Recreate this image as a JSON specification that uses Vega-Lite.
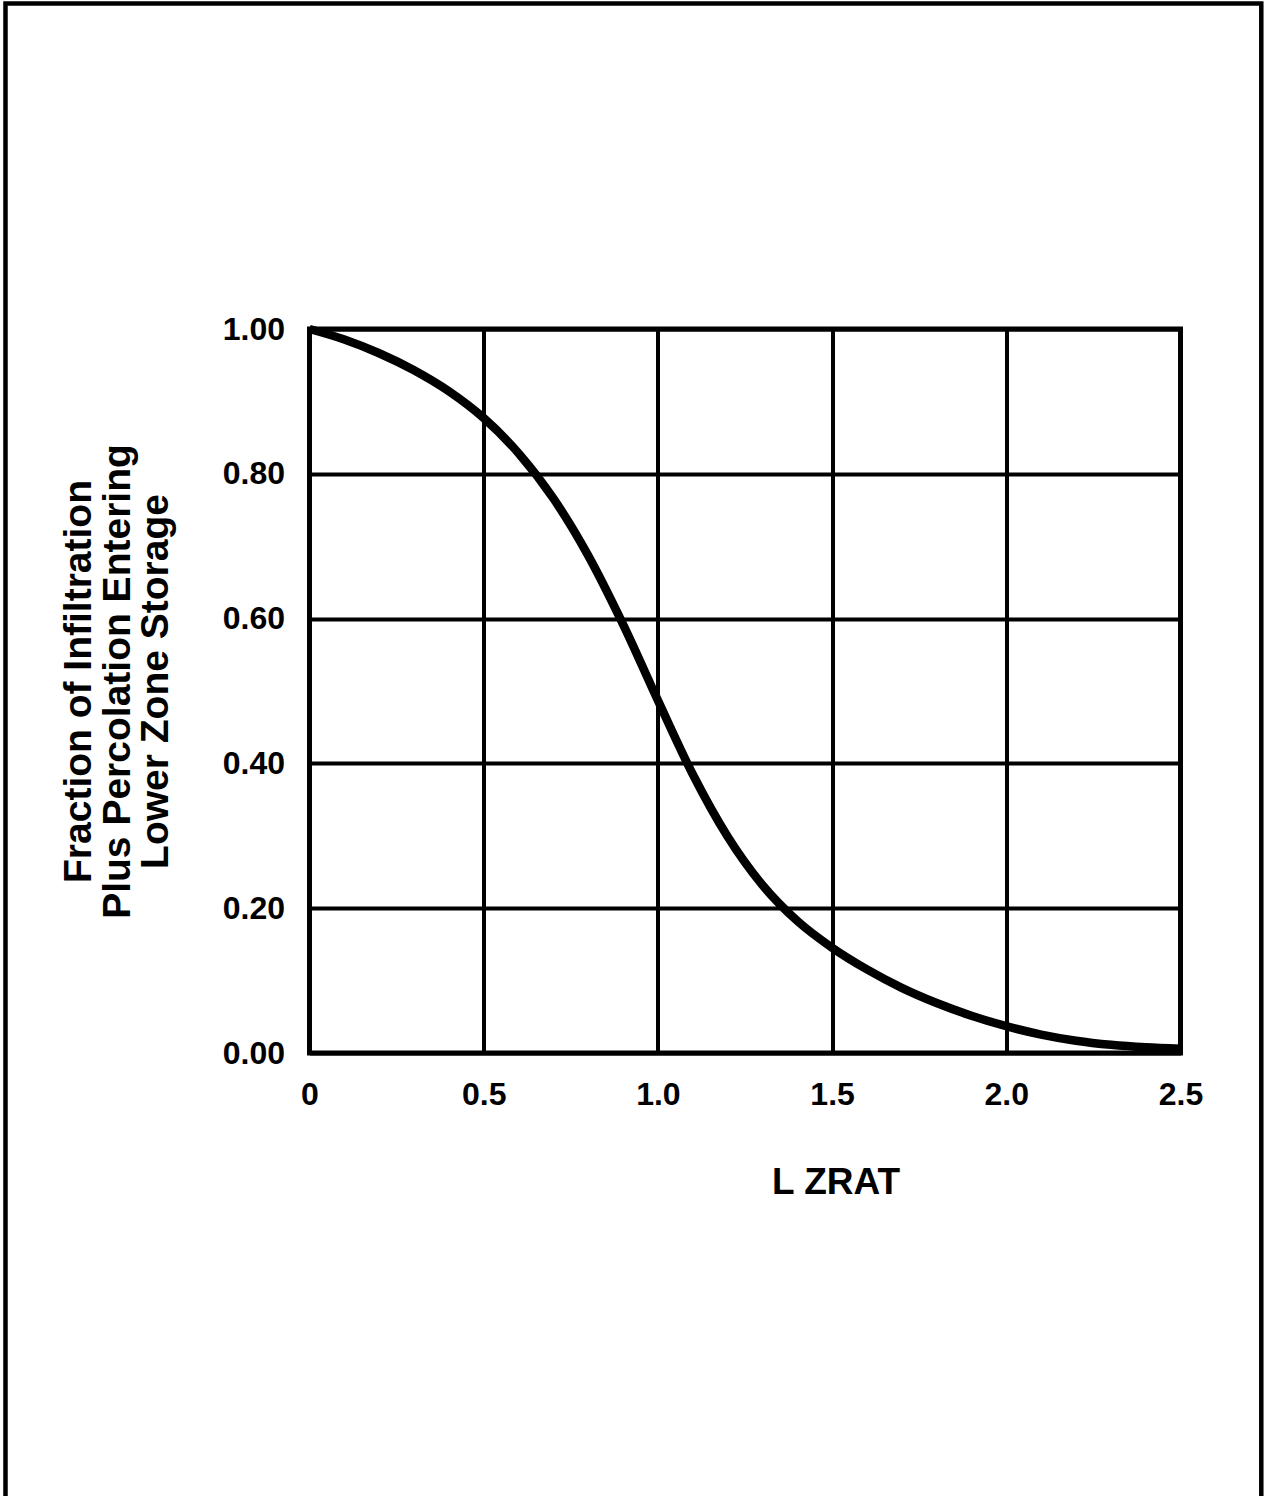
{
  "$schema": "https://vega.github.io/schema/vega-lite/v6.json",
  "width": 871,
  "height": 724,
  "autosize": {"type": "none"},
  "padding": {"left": 309.5, "top": 329, "right": 84.5, "bottom": 443},
  "background": "white",
  "config": {"view": {"stroke": "black", "strokeWidth": 5}, "font": "Liberation Sans"},
  "layer": [
    {
      "data": {"values": [
        {"LZRAT": 0.0, "fraction": 1.0},
        {"LZRAT": 0.1, "fraction": 0.9855},
        {"LZRAT": 0.2, "fraction": 0.9665},
        {"LZRAT": 0.3, "fraction": 0.943},
        {"LZRAT": 0.4, "fraction": 0.914},
        {"LZRAT": 0.5, "fraction": 0.877},
        {"LZRAT": 0.6, "fraction": 0.8285},
        {"LZRAT": 0.7, "fraction": 0.766},
        {"LZRAT": 0.8, "fraction": 0.687},
        {"LZRAT": 0.9, "fraction": 0.592},
        {"LZRAT": 1.0, "fraction": 0.487},
        {"LZRAT": 1.1, "fraction": 0.385},
        {"LZRAT": 1.2, "fraction": 0.299},
        {"LZRAT": 1.3, "fraction": 0.232},
        {"LZRAT": 1.4, "fraction": 0.1825},
        {"LZRAT": 1.5, "fraction": 0.1455},
        {"LZRAT": 1.6, "fraction": 0.1155},
        {"LZRAT": 1.7, "fraction": 0.090},
        {"LZRAT": 1.8, "fraction": 0.069},
        {"LZRAT": 1.9, "fraction": 0.0515},
        {"LZRAT": 2.0, "fraction": 0.037},
        {"LZRAT": 2.1, "fraction": 0.0255},
        {"LZRAT": 2.2, "fraction": 0.017},
        {"LZRAT": 2.3, "fraction": 0.0113},
        {"LZRAT": 2.4, "fraction": 0.0078},
        {"LZRAT": 2.5, "fraction": 0.006}
      ]},
      "mark": {"type": "line", "color": "black", "strokeWidth": 8.5, "interpolate": "monotone"},
      "encoding": {
        "x": {
          "field": "LZRAT", "type": "quantitative",
          "scale": {"domain": [0, 2.5], "nice": false, "zero": false},
          "axis": {
            "values": [0, 0.5, 1, 1.5, 2, 2.5],
            "labelExpr": "datum.value == 0 ? '0' : format(datum.value, '.1f')",
            "grid": true, "gridColor": "black", "gridWidth": 4, "gridOpacity": 1,
            "domain": false, "ticks": false,
            "labelFont": "Liberation Sans", "labelFontWeight": "bold", "labelFontSize": 32, "labelColor": "black",
            "labelPadding": 26, "labelOverlap": false, "labelFlush": false,
            "title": "L ZRAT",
            "titleFont": "Liberation Sans", "titleFontWeight": "bold", "titleFontSize": 37, "titleColor": "black",
            "titleX": 526, "titleY": 140, "titleAlign": "center", "titleBaseline": "alphabetic"
          }
        },
        "y": {
          "field": "fraction", "type": "quantitative",
          "scale": {"domain": [0, 1], "nice": false, "zero": false},
          "axis": {
            "values": [0, 0.2, 0.4, 0.6, 0.8, 1],
            "format": ".2f",
            "grid": true, "gridColor": "black", "gridWidth": 4, "gridOpacity": 1,
            "domain": false, "ticks": false,
            "labelFont": "Liberation Sans", "labelFontWeight": "bold", "labelFontSize": 32, "labelColor": "black",
            "labelPadding": 25, "labelOverlap": false, "labelFlush": false,
            "title": ["Fraction of Infiltration", "Plus Percolation Entering", "Lower Zone Storage"],
            "titleFont": "Liberation Sans", "titleFontWeight": "bold", "titleFontSize": 39, "titleLineHeight": 38.5, "titleColor": "black",
            "titleX": -231, "titleY": 352, "titleAlign": "center", "titleBaseline": "middle", "titleAngle": 270
          }
        }
      }
    },
    {
      "data": {"values": [{}]},
      "mark": {"type": "rect", "filled": false, "fill": null, "stroke": "black", "strokeWidth": 4.5, "clip": false},
      "encoding": {
        "x": {"datum": -0.8726, "type": "quantitative", "scale": {"domain": [0, 2.5], "nice": false, "zero": false}},
        "x2": {"datum": 2.7319},
        "y": {"datum": 1.4496, "type": "quantitative", "scale": {"domain": [0, 1], "nice": false, "zero": false}},
        "y2": {"datum": -0.62}
      }
    }
  ]
}
